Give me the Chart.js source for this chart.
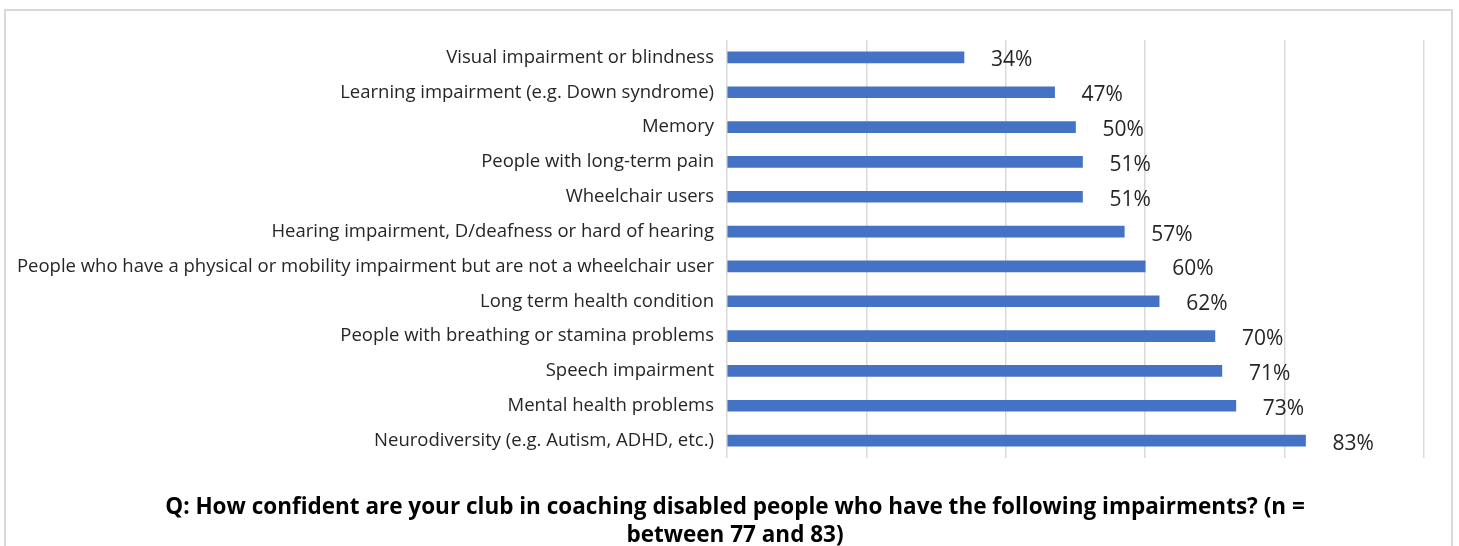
<!DOCTYPE html>
<html>
<head>
<meta charset="utf-8">
<script src="https://cdn.jsdelivr.net/npm/chart.js@4/dist/chart.umd.min.js"></script>
<style>
  html, body { margin: 0; padding: 0; background: #ffffff; }
  #wrap { width: 1459px; height: 546px; position: relative; }
</style>
</head>
<body>
<div id="wrap"><canvas id="chart" width="1459" height="546"></canvas></div>
<script>
// Impairment categories, top to bottom
const categories = [
  "Visual impairment or blindness",
  "Learning impairment (e.g. Down syndrome)",
  "Memory",
  "People with long-term pain",
  "Wheelchair users",
  "Hearing impairment, D/deafness or hard of hearing",
  "People who have a physical or mobility impairment but are not a wheelchair user",
  "Long term health condition",
  "People with breathing or stamina problems",
  "Speech impairment",
  "Mental health problems",
  "Neurodiversity (e.g. Autism, ADHD, etc.)"
];

// Share of clubs confident in coaching each group (%)
const confidentPct = [34, 47, 50, 51, 51, 57, 60, 62, 70, 71, 73, 83];

// Value axis gridlines (%); no tick labels are shown
const axisTicks = [0, 20, 40, 60, 80, 100];

const titleLines = [
  "Q: How confident are your club in coaching disabled people who have the following impairments? (n =",
  "between 77 and 83)"
];

// Outer frame around the whole chart
const framePlugin = {
  id: 'frame',
  beforeDraw(chart) {
    const ctx = chart.ctx;
    ctx.save();
    ctx.fillStyle = '#ffffff';
    ctx.fillRect(0, 0, chart.width, chart.height);
    ctx.strokeStyle = '#d9d9d9';
    ctx.lineWidth = 2;
    ctx.strokeRect(5, 10, 1447, 560);
    ctx.restore();
  }
};

// Percentage labels placed just past the end of each bar
const valueLabelPlugin = {
  id: 'valueLabels',
  afterDatasetsDraw(chart) {
    const ctx = chart.ctx;
    const meta = chart.getDatasetMeta(0);
    ctx.save();
    ctx.font = '21px "Open Sans"';
    ctx.fillStyle = '#262626';
    ctx.textAlign = 'left';
    ctx.textBaseline = 'middle';
    meta.data.forEach((bar, i) => {
      ctx.fillText(confidentPct[i] + '%', bar.x + 27, bar.y + 3);
    });
    ctx.restore();
  }
};

new Chart(document.getElementById('chart'), {
  type: 'bar',
  data: {
    labels: categories,
    datasets: [{
      data: confidentPct,
      backgroundColor: '#4472c4',
      borderWidth: 0,
      barThickness: 11
    }]
  },
  options: {
    indexAxis: 'y',
    responsive: false,
    animation: false,
    // negative right padding widens the title box so the title centres under the plot
    layout: { padding: { top: 40, right: -11, bottom: 0, left: 0 } },
    plugins: {
      legend: { display: false },
      tooltip: { enabled: false },
      title: {
        display: true,
        position: 'bottom',
        text: titleLines,
        color: '#000000',
        font: { family: '"Open Sans"', size: 22.5, weight: 'bold', lineHeight: 1.244 },
        padding: { top: 36, bottom: -4 }
      }
    },
    scales: {
      x: {
        min: 0,
        // leaves blank room to the right of the 100% gridline
        max: 105.02,
        afterBuildTicks(scale) {
          scale.ticks = axisTicks.map(v => ({ value: v }));
        },
        afterFit(scale) { scale.height = 0; },
        ticks: { display: false },
        border: { display: false },
        grid: { color: '#d9d9d9', lineWidth: 1.5, drawTicks: false }
      },
      y: {
        afterFit(scale) { scale.width = 727; },
        border: { display: false },
        grid: { display: false, drawTicks: false },
        ticks: {
          color: '#262626',
          padding: 13,
          font: { family: '"Open Sans"', size: 18.5 }
        }
      }
    }
  },
  plugins: [framePlugin, valueLabelPlugin]
});
</script>
</body>
</html>
